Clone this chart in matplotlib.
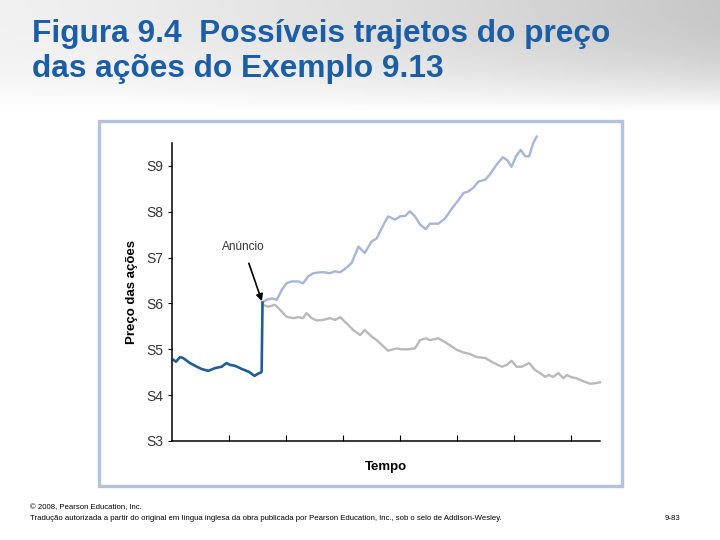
import numpy as np
import matplotlib
matplotlib.use("Agg")
import matplotlib.pyplot as plt
from matplotlib.patches import Rectangle

plt.rcParams['font.family'] = ['Liberation Sans', 'DejaVu Sans']

# price path before the announcement
x_pre = [0.03, 0.075, 0.145, 0.2, 0.32, 0.44, 0.525, 0.64, 0.76, 0.875, 0.96, 1.02,
         1.11, 1.23, 1.35, 1.45, 1.53, 1.56, 1.575, 1.59]
y_pre = [4.77, 4.73, 4.83, 4.81, 4.70, 4.62, 4.57, 4.53, 4.59, 4.62, 4.70, 4.66,
         4.64, 4.57, 4.51, 4.42, 4.48, 4.49, 4.52, 6.02]

# possible path: up
x_up = [1.59, 1.66, 1.75, 1.84, 1.93, 2.01, 2.10, 2.22, 2.30, 2.39, 2.48, 2.60, 2.68,
        2.77, 2.86, 2.95, 3.03, 3.15, 3.27, 3.38, 3.50, 3.59, 3.71, 3.79, 3.91, 4.00,
        4.09, 4.17, 4.26, 4.35, 4.45, 4.52, 4.67, 4.79, 4.93, 5.02, 5.11, 5.19, 5.28,
        5.37, 5.49, 5.57, 5.69, 5.80, 5.88, 5.95, 6.03, 6.11, 6.19, 6.26, 6.33, 6.39]
y_up = [6.02, 6.08, 6.11, 6.08, 6.30, 6.44, 6.48, 6.48, 6.44, 6.59, 6.66, 6.68, 6.68,
        6.66, 6.70, 6.68, 6.75, 6.88, 7.24, 7.10, 7.35, 7.42, 7.72, 7.90, 7.83, 7.90,
        7.91, 8.01, 7.90, 7.72, 7.62, 7.74, 7.74, 7.86, 8.11, 8.25, 8.41, 8.44, 8.52,
        8.66, 8.70, 8.81, 9.03, 9.19, 9.12, 8.98, 9.21, 9.35, 9.21, 9.21, 9.50, 9.64]

# possible path: down
x_down = [1.59, 1.69, 1.81, 1.90, 2.01, 2.13, 2.22, 2.30, 2.36, 2.45, 2.54, 2.65, 2.77,
          2.86, 2.95, 3.06, 3.18, 3.30, 3.38, 3.50, 3.59, 3.71, 3.79, 3.94, 4.03, 4.14,
          4.26, 4.35, 4.45, 4.52, 4.67, 4.82, 4.99, 5.11, 5.22, 5.34, 5.49, 5.63, 5.78,
          5.87, 5.95, 6.04, 6.13, 6.26, 6.36, 6.45, 6.54, 6.60, 6.68, 6.77, 6.86, 6.92,
          7.00, 7.09, 7.21, 7.33, 7.41, 7.50]
y_down = [5.97, 5.93, 5.97, 5.86, 5.71, 5.68, 5.70, 5.68, 5.79, 5.68, 5.63, 5.64, 5.68,
          5.64, 5.70, 5.57, 5.42, 5.31, 5.42, 5.28, 5.20, 5.06, 4.97, 5.02, 5.00, 5.00,
          5.02, 5.20, 5.24, 5.20, 5.24, 5.13, 4.99, 4.93, 4.90, 4.83, 4.81, 4.71, 4.62,
          4.66, 4.75, 4.62, 4.62, 4.70, 4.55, 4.48, 4.40, 4.44, 4.40, 4.48, 4.37, 4.44,
          4.39, 4.37, 4.30, 4.25, 4.26, 4.28]

yticks = [3, 4, 5, 6, 7, 8, 9]
ytick_labels = ["S3", "S4", "S5", "S6", "S7", "S8", "S9"]
xticks = [1, 2, 3, 4, 5, 6, 7]

fig = plt.figure(figsize=(7.2, 5.4), dpi=100)
fig.patch.set_facecolor("white")

# slide header background (soft grey gradient)
bg = fig.add_axes([0, 1 - 112 / 540, 1, 112 / 540], zorder=0)
gx = np.linspace(0, 1, 300)
gy = np.linspace(0, 1, 60)
GX, GY = np.meshgrid(gx, gy)
shade = 1 - (0.06 + 0.16 * GX ** 1.3) * (1 - GY ** 2.5)
bg.imshow(shade, cmap="gray", vmin=0, vmax=1, aspect="auto", extent=[0, 1, 0, 1])
bg.set_axis_off()

fig.text(32 / 720, 1 - 34 / 540, "Figura 9.4  Possíveis trajetos do preço",
         fontsize=22.8, fontweight="bold", color="#1b5ea5", va="center", ha="left")
fig.text(32 / 720, 1 - 69 / 540, "das ações do Exemplo 9.13",
         fontsize=22.8, fontweight="bold", color="#1b5ea5", va="center", ha="left")

# frame around the figure
fig.patches.append(Rectangle((99 / 720, 1 - 486 / 540), 523 / 720, 365 / 540,
                             transform=fig.transFigure, fill=False,
                             edgecolor="#b3c3dc", linewidth=2.4, zorder=1))

ax = fig.add_axes([171.7 / 720, 1 - 441 / 540, (600 - 171.7) / 720, (441 - 143) / 540], zorder=2)
ax.patch.set_alpha(0)
ax.plot(x_up, y_up, color="#a6b6d4", lw=1.7, clip_on=False)
ax.plot(x_down, y_down, color="#b9b9b9", lw=1.7, clip_on=False)
ax.plot(x_pre, y_pre, color="#1f5d92", lw=1.9, clip_on=False)

ax.set_xlim(0, 7.5)
ax.set_ylim(3, 9.5)
ax.set_yticks(yticks)
ax.set_yticklabels(ytick_labels)
ax.set_xticks(xticks)
ax.set_xticklabels([])
ax.tick_params(axis="y", direction="out", length=3, width=0.8, labelsize=10,
               labelcolor="#333333", pad=3)
ax.tick_params(axis="x", direction="in", length=4, width=0.8)
for s in ["top", "right"]:
    ax.spines[s].set_visible(False)
for s in ["left", "bottom"]:
    ax.spines[s].set_linewidth(1.1)

ax.set_ylabel("Preço das ações", fontsize=9.5, fontweight="bold", labelpad=6)
ax.set_xlabel("Tempo", fontsize=9.5, fontweight="bold", labelpad=11)

ax.annotate("Anúncio", xy=(1.58, 6.05), xytext=(1.25, 7.24),
            fontsize=8.5, color="#333333", ha="center", va="center",
            arrowprops=dict(arrowstyle="-|>", color="black", lw=1.2,
                            mutation_scale=10, shrinkA=6, shrinkB=0))

fig.text(30 / 720, 1 - 508 / 540, "© 2008, Pearson Education, Inc.",
         fontsize=5.6, va="center", ha="left")
fig.text(30 / 720, 1 - 518 / 540,
         "Tradução autorizada a partir do original em língua inglesa da obra publicada por "
         "Pearson Education, Inc., sob o selo de Addison-Wesley.",
         fontsize=5.6, va="center", ha="left")
fig.text(665 / 720, 1 - 519 / 540, "9-83", fontsize=5.6, va="center", ha="left")

fig.savefig("out.png", dpi=100)
